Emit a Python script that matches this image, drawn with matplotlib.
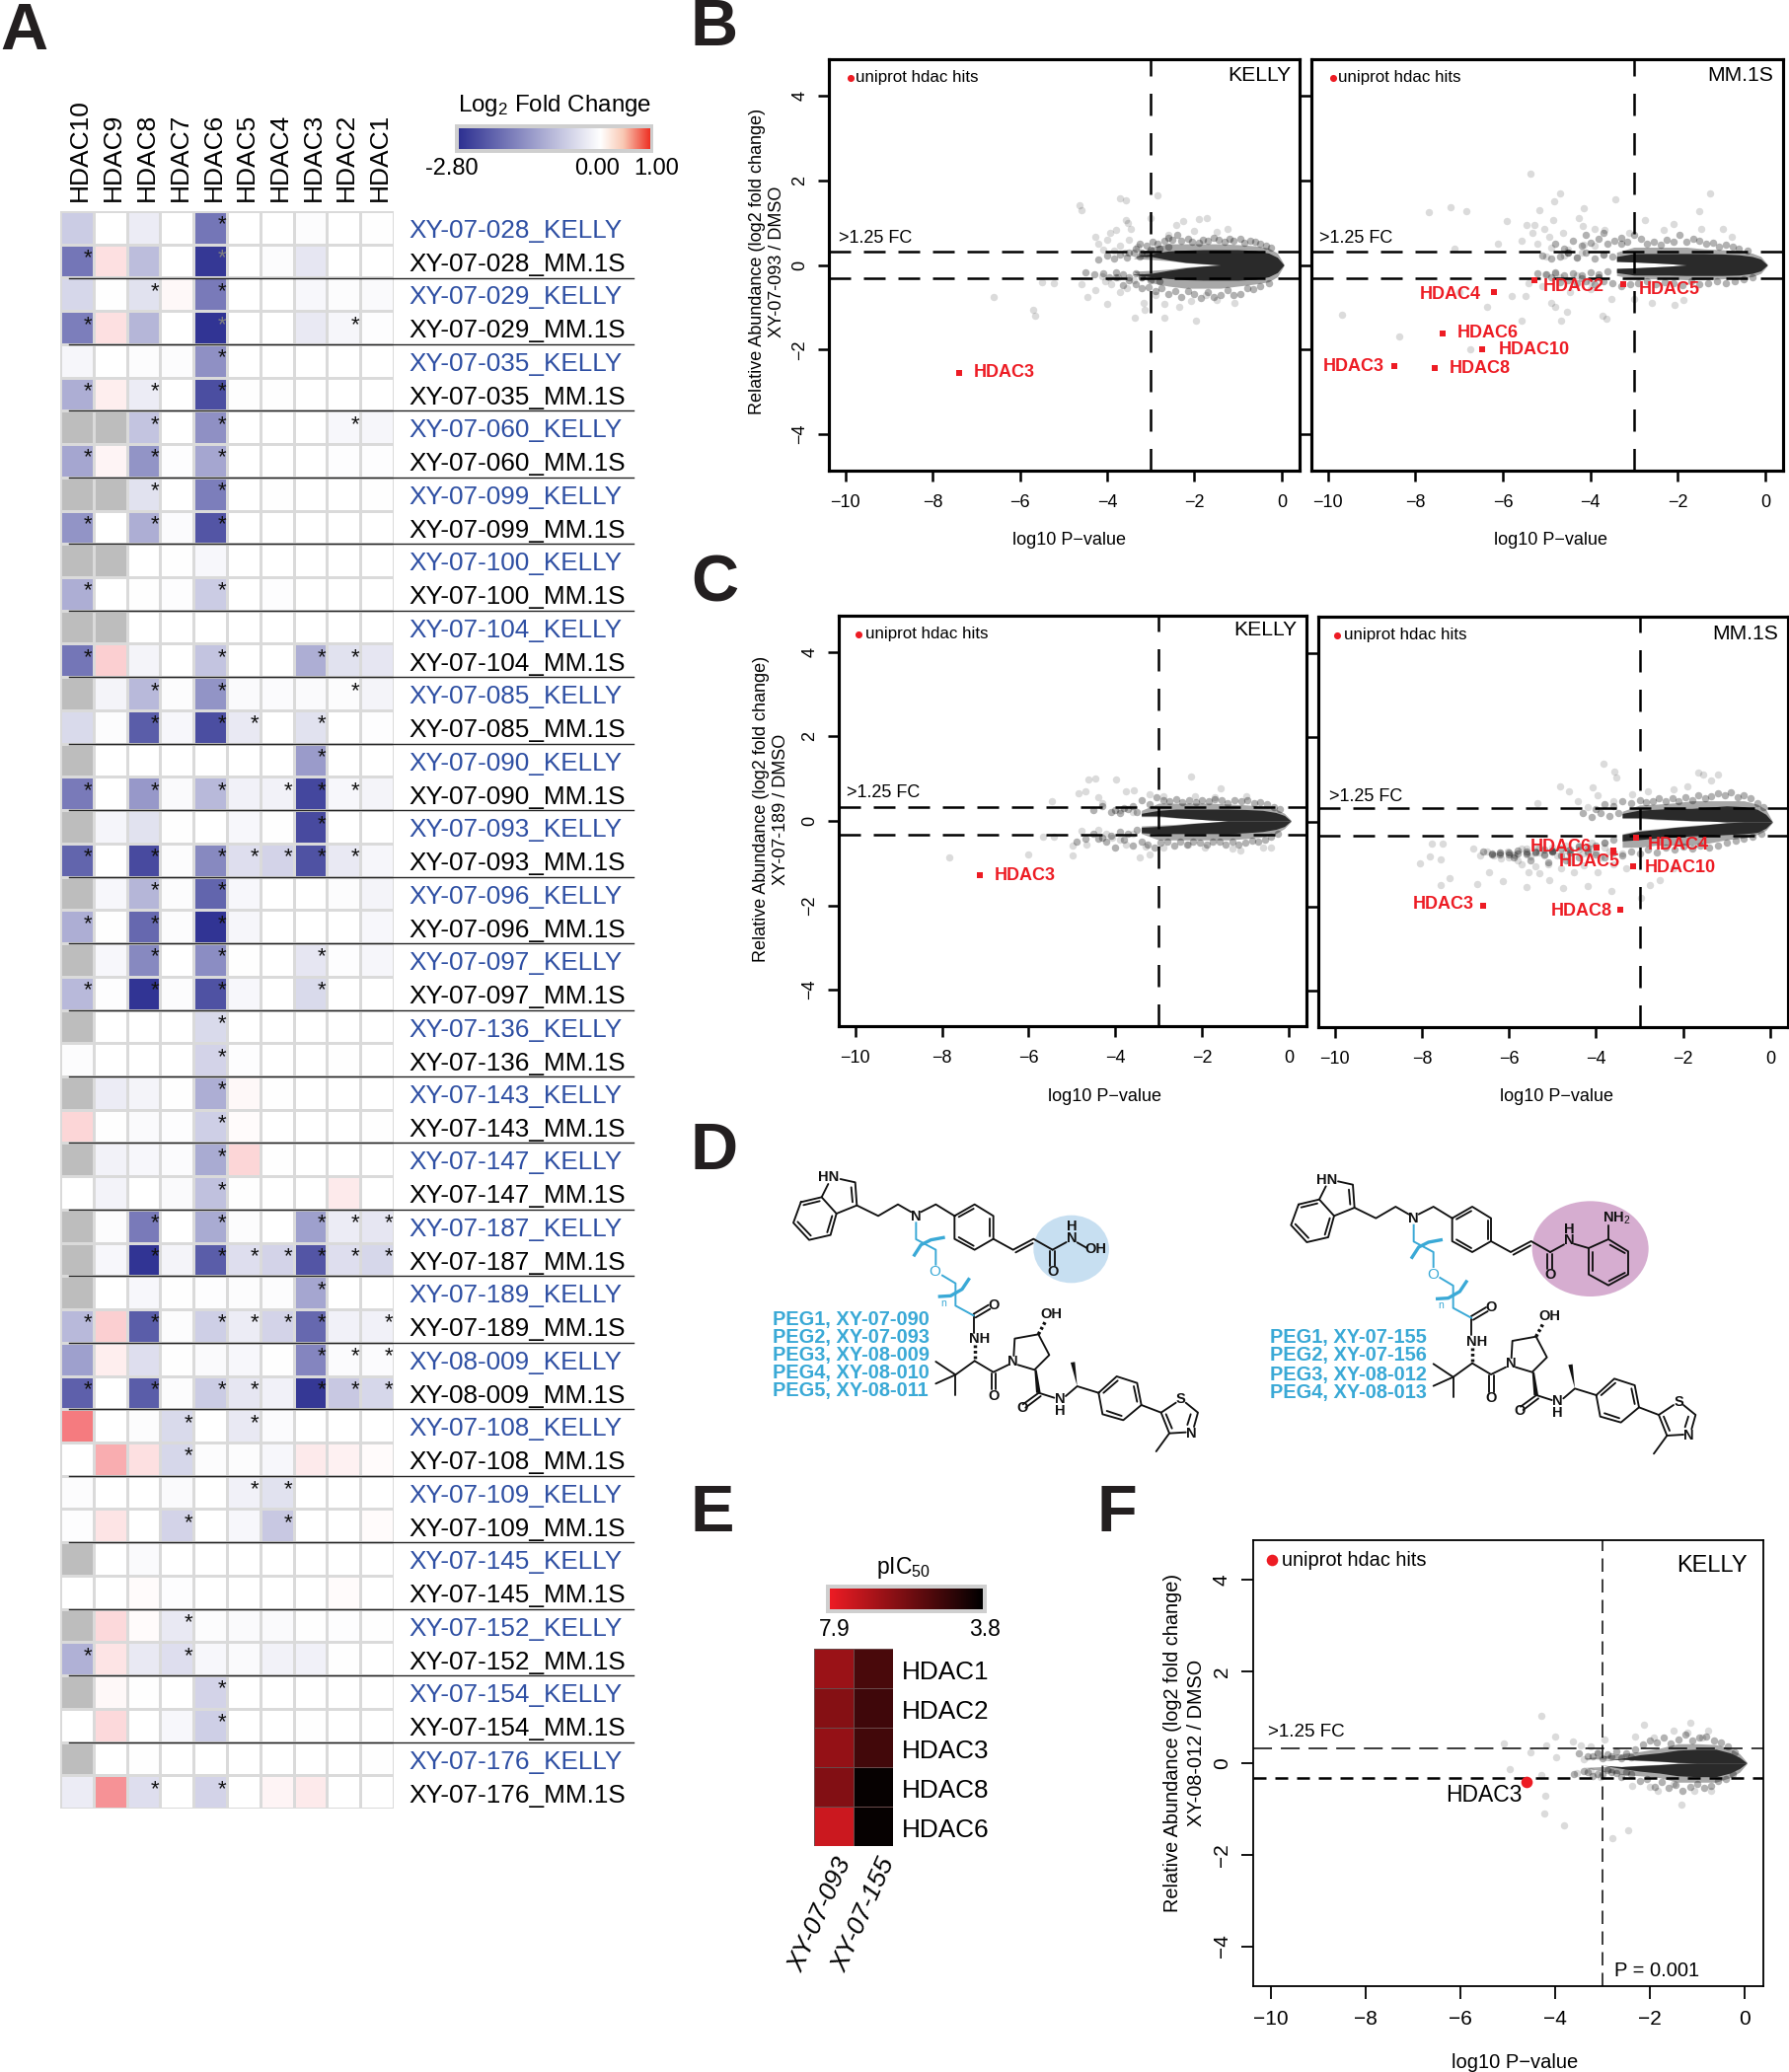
import matplotlib
matplotlib.use('Agg')
import matplotlib.pyplot as plt
import numpy as np
from matplotlib.colors import LinearSegmentedColormap
from matplotlib.patches import Ellipse, Rectangle, Polygon

plt.rcParams['font.family'] = ['Liberation Sans', 'DejaVu Sans']
plt.rcParams['mathtext.fontset'] = 'custom'
plt.rcParams['mathtext.rm'] = 'Liberation Sans'
plt.rcParams['mathtext.default'] = 'rm'

W, H = 1813, 2100
nan = np.nan

# ---- panel A data ----
hdacs = ['HDAC10', 'HDAC9', 'HDAC8', 'HDAC7', 'HDAC6', 'HDAC5', 'HDAC4', 'HDAC3', 'HDAC2', 'HDAC1']
compounds = ['XY-07-028', 'XY-07-029', 'XY-07-035', 'XY-07-060', 'XY-07-099', 'XY-07-100',
             'XY-07-104', 'XY-07-085', 'XY-07-090', 'XY-07-093', 'XY-07-096', 'XY-07-097',
             'XY-07-136', 'XY-07-143', 'XY-07-147', 'XY-07-187', 'XY-07-189', 'XY-08-009',
             'XY-07-108', 'XY-07-109', 'XY-07-145', 'XY-07-152', 'XY-07-154', 'XY-07-176']
fold_change = [
    [-0.7, 0, -0.25, 0, -1.85, 0, 0, -0.05, 0, -0.02],
    [-1.85, 0.13, -0.9, 0, -2.7, 0, -0.05, -0.35, 0, 0],
    [-0.55, -0.02, -0.4, 0.03, -1.8, 0, 0, -0.1, -0.05, -0.08],
    [-1.75, 0.13, -1.0, 0, -2.75, 0, 0, -0.3, -0.12, -0.03],
    [-0.12, 0, -0.05, -0.05, -1.5, 0, 0, 0, 0, 0],
    [-1.1, 0.07, -0.25, 0, -2.4, -0.02, -0.02, 0, 0, 0],
    [nan, nan, -0.8, 0, -1.5, 0, 0, 0, -0.1, -0.12],
    [-1.2, 0.05, -1.45, -0.03, -1.2, 0, 0, 0, -0.03, -0.03],
    [nan, nan, -0.4, 0, -1.75, 0, -0.02, 0, 0, -0.02],
    [-1.45, 0, -1.1, -0.06, -2.3, 0, 0, 0, 0, 0],
    [nan, nan, 0, -0.02, -0.1, 0, 0, 0, 0, 0],
    [-1.1, 0, -0.02, -0.03, -0.7, 0, -0.03, 0, 0, 0],
    [nan, nan, 0, 0, 0, 0, 0, 0, 0, 0],
    [-1.85, 0.2, -0.15, 0, -0.8, 0, 0, -1.1, -0.4, -0.35],
    [nan, -0.15, -0.95, -0.05, -1.45, -0.08, -0.06, -0.08, -0.05, -0.15],
    [-0.5, -0.05, -2.2, -0.1, -2.4, -0.3, 0, -0.4, 0, -0.03],
    [nan, 0, 0, 0, 0, 0, 0, -1.35, 0, 0],
    [-1.8, 0, -1.4, -0.07, -0.95, -0.2, -0.18, -2.5, -0.1, -0.15],
    [nan, -0.13, -0.4, -0.02, 0, -0.1, -0.02, -2.45, 0, 0],
    [-2.1, 0, -2.45, -0.05, -1.6, -0.45, -0.6, -2.35, -0.3, -0.12],
    [nan, -0.1, -1.0, -0.05, -2.1, -0.1, 0, 0, -0.05, -0.15],
    [-1.1, -0.02, -2.05, -0.05, -2.75, -0.12, 0, 0, 0, -0.1],
    [nan, -0.1, -1.6, 0, -1.55, -0.02, 0, -0.35, -0.03, -0.12],
    [-0.95, -0.03, -2.75, -0.05, -2.35, -0.1, 0, -0.5, 0, 0],
    [nan, 0, 0, 0, -0.5, 0, 0, 0, 0, 0],
    [-0.04, 0, 0, 0, -0.6, -0.03, 0, 0, -0.02, 0],
    [nan, -0.25, -0.15, -0.02, -1.1, 0.03, -0.01, 0, 0, 0],
    [0.18, -0.02, -0.08, -0.03, -0.65, 0.02, 0, 0, 0, -0.02],
    [nan, -0.18, -0.1, -0.06, -1.15, 0.18, -0.02, 0, 0, 0],
    [0, -0.16, 0, -0.08, -0.85, -0.02, 0, 0, 0.08, 0],
    [nan, -0.05, -1.8, 0, -1.15, -0.05, 0, -1.3, -0.25, -0.35],
    [nan, -0.1, -2.75, -0.15, -2.2, -0.45, -0.6, -2.3, -0.45, -0.55],
    [nan, 0, -0.1, -0.02, -0.03, -0.05, -0.05, -1.2, 0, 0],
    [-0.95, 0.2, -2.2, -0.05, -0.65, -0.25, -0.6, -2.05, -0.2, -0.2],
    [-1.3, 0.07, -0.45, -0.02, -0.08, -0.1, -0.02, -1.65, -0.06, -0.06],
    [-2.15, 0, -2.2, -0.05, -0.7, -0.35, -0.2, -2.7, -0.75, -0.55],
    [0.58, 0, -0.05, -0.5, 0, -0.3, -0.06, 0, 0, 0],
    [0, 0.35, 0.13, -0.55, -0.04, -0.04, -0.1, 0.08, 0.06, 0.02],
    [-0.05, 0, 0, -0.08, 0, -0.2, -0.4, 0, 0, 0],
    [-0.03, 0.12, 0, -0.6, 0, -0.1, -0.75, 0, 0, 0.01],
    [nan, 0, -0.07, 0, 0, 0, 0, 0, 0, 0],
    [0, 0, 0.01, -0.03, 0, 0, 0, 0, 0.01, 0],
    [nan, 0.16, 0.02, -0.3, -0.05, -0.08, -0.08, -0.01, -0.03, -0.02],
    [-1.05, 0.12, -0.3, -0.45, -0.1, -0.08, -0.18, -0.2, -0.02, 0],
    [nan, 0.03, -0.01, 0, -0.6, 0, 0, 0, 0, 0],
    [0, 0.16, 0, -0.1, -0.65, 0, 0, -0.01, 0, 0],
    [nan, 0, -0.01, 0, 0, 0, 0, 0, 0, -0.02],
    [-0.25, 0.48, -0.45, 0, -0.6, 0, 0.05, 0.08, 0, 0],
]
star_cols = [
    [4], [0, 4], [2, 4], [0, 4, 8], [4], [0, 2, 4], [2, 4, 8], [0, 2, 4],
    [2, 4], [0, 2, 4], [], [0, 4], [], [0, 4, 7, 8], [2, 4, 8], [2, 4, 5, 7],
    [7], [0, 2, 4, 6, 7, 8], [7], [0, 2, 4, 5, 6, 7, 8], [2, 4], [0, 2, 4], [2, 4, 7], [0, 2, 4, 7],
    [4], [4], [4], [4], [4], [4], [2, 4, 7, 8, 9], [2, 4, 5, 6, 7, 8, 9],
    [7], [0, 2, 4, 5, 6, 7, 9], [7, 8, 9], [0, 2, 4, 5, 7, 8, 9], [3, 5], [3], [5, 6], [3, 6],
    [], [], [3], [0, 3], [4], [4], [], [2, 4],
]
grey_stars = [(1, 4), (3, 4)]
low_star = (19, 3)

# ---- panel B, C, F data (log10 P-value, log2 FC) ----
# the solid middle of each cloud is kept as an outline
cloud_x = [0.05, -0.1, -0.3, -0.6, -1.0, -1.4, -1.8, -2.2, -2.6, -3.0, -3.4]

bk_top = [0, .18, .28, .34, .36, .36, .36, .35, .33, .26, .2]
bk_bot = [0, -.18, -.28, -.34, -.36, -.36, -.36, -.35, -.32, -.28, -.23]
bk_gap_top = [0, 0, 0, 0, 0, 0, .03, .06, .12, .2, .2]
bk_gap_bot = [0, 0, 0, 0, 0, 0, -.03, -.07, -.13, -.2, -.22]
bk_h_top = [.02, .28, .4, .45, .48, .5, .5, .5, .5, .42, .15]
bk_h_gt = [0, 0, 0, 0, 0, 0, .02, .05, .1, .13, .15]
bk_h_gb = [0, 0, 0, 0, 0, 0, -.02, -.05, -.1, -.13, -.15]
bk_h_bot = [-.02, -.28, -.4, -.45, -.5, -.55, -.55, -.55, -.5, -.42, -.15]
bk_fx = [-.25, -.35, -.5, -.6, -.72, -.85, -.95, -1.1, -1.2, -1.3, -1.45, -1.55, -1.7, -1.8, -1.9, -2.05, -2.15, -2.3, -2.4, -2.5,
         -2.6, -2.7, -2.85, -2.95, -3.1, -3.25, -3.35, -3.5, -3.2, -3.0, -2.8, -2.6,
         -.3, -.5, -.65, -.8, -.95, -1.1, -1.25, -1.4, -1.55, -1.7, -1.85, -2, -2.15, -2.3, -2.45, -2.6, -2.75, -2.9,
         -3.05, -3.2, -3.35, -3.5, -3.65, -3.8, -3.2, -3.0, -2.8,
         -3.1, -3.25, -3.4, -3.55, -3.7, -3.85, -4.0, -4.2, -3.2, -3.35, -3.5, -3.65, -3.8, -3.95, -4.1, -4.3, -4.5]
bk_fy = [.4, .45, .5, .55, .58, .52, .62, .58, .62, .55, .6, .65, .58, .6, .52, .55, .62, .58, .7, .6,
         .65, .58, .5, .55, .45, .5, .38, .3, .3, .35, .38, .42,
         -.42, -.5, -.58, -.55, -.68, -.72, -.6, -.7, -.75, -.65, -.78, -.68, -.62, -.75, -.62, -.68, -.55, -.62,
         -.52, -.55, -.45, -.35, -.48, -.3, -.3, -.35, -.38,
         .27, .2, .3, .18, .25, .15, .22, .12, -.28, -.2, -.3, -.22, -.18, -.28, -.2, -.22, -.18]
bk_px = [-4.64, -4.59, -3.7, -3.56, -2.84, -3.58, -3.52, -3.0, -2.25, -1.89, -1.72, -3.8, -3.93, -3.45, -2.41, -1.25,
         -4.27, -4.2, -3.99, -3.7, -3.5, -3.3, -4.1, -3.85, -3.6, -2.6, -2.0, -1.5,
         -6.6, -5.69, -5.65, -5.49, -5.22, -4.59, -4.46, -4.0, -4.27, -4.12, -3.36, -3.14, -2.7, -1.96, -2.7, -2.35,
         -3.17, -1.09, -2.07, -1.75, -3.9, -3.75, -3.55, -3.4, -4.05, -3.7, -2.9, -1.5]
bk_py = [1.41, 1.29, 1.57, 1.52, 1.64, 1.06, .98, 1.1, 1.04, 1.08, 1.1, .82, .75, .86, .94, .85,
         .67, .51, .59, .45, .6, .42, .35, .33, .28, .72, .8, .78,
         -.75, -1.06, -1.21, -.4, -.42, -.46, -.75, -.91, -.59, -.26, -1.25, -1.06, -1.25, -1.32, -.93, -.98,
         -.89, -.9, -.85, -.72, -.45, -.28, -.55, -.35, -.38, -.65, -.7, -.82]

bm_top = [0, .14, .2, .24, .26, .27, .27, .27, .27, .27, .2]
bm_bot = [0, -.14, -.2, -.24, -.25, -.25, -.25, -.24, -.24, -.24, -.18]
bm_gap_top = [0, 0, 0, 0, 0, 0, 0, .03, .05, .07, .08]
bm_gap_bot = [0, 0, 0, 0, 0, 0, 0, -.03, -.05, -.07, -.08]
bm_h_top = [.02, .2, .28, .33, .36, .38, .42, .42, .42, .42, .3]
bm_h_gt = [0, 0, 0, 0, 0, 0, 0, .03, .05, .07, .1]
bm_h_gb = [0, 0, 0, 0, 0, 0, 0, -.03, -.05, -.07, -.1]
bm_h_bot = [-.02, -.2, -.28, -.3, -.33, -.35, -.35, -.33, -.33, -.33, -.25]
bm_fx = [-.4, -.6, -.75, -.9, -1.05, -1.2, -1.35, -1.5, -1.65, -1.8, -1.95, -2.1, -2.25, -2.4, -2.55, -2.7, -2.85, -3.0, -3.15, -3.3,
         -3.45, -3.6, -3.8, -4.0, -4.2, -4.4, -4.6, -4.8, -3.3, -3.7, -4.1, -4.5,
         -.3, -.5, -.7, -.9, -1.1, -1.3, -1.5, -1.7, -1.9, -2.1, -2.3, -2.5, -2.7, -2.9, -3.1, -3.3, -3.5, -3.7, -3.9, -4.1,
         -4.3, -4.5, -4.7, -4.9, -3.8, -4.2,
         -3.5, -3.7, -3.9, -4.1, -4.3, -4.5, -4.7, -4.9, -5.1, -3.6, -3.8, -4.0, -4.2, -4.4, -4.6, -4.8, -5.0, -5.2]
bm_fy = [.33, .38, .42, .48, .42, .52, .5, .58, .62, .55, .72, .55, .6, .48, .55, .5, .62, .7, .55, .5,
         .58, .5, .62, .52, .45, .58, .38, .5, .65, .75, .72, .3,
         -.28, -.33, -.38, -.42, -.38, -.42, -.45, -.38, -.48, -.42, -.4, -.45, -.38, -.42, -.45, -.5, -.42, -.38, -.45, -.38,
         -.42, -.35, -.4, -.3, -.28, -.32,
         .2, .25, .15, .28, .18, .3, .2, .15, .22, -.15, -.22, -.18, -.25, -.2, -.25, -.18, -.22, -.2]
bm_px = [-5.38, -4.7, -1.26, -4.83, -3.42, -7.19, -7.7, -6.83, -5.17, -4.15, -1.5, -4.27, -5.91, -5.28, -4.86, -2.76,
         -4.18, -5.46, -5.06, -3.91, -5.57, -6.12, -7.11, -4.94, -4.62, -3.67, -3.12, -2.33, -2.1, -1.47, -.96, -.76,
         -4.15, -5.33, -5.2, -4.9, -4.5, -4.2, -3.9, -3.7, -5.0, -4.6, -4.3,
         -9.67, -8.36, -6.75, -6.36, -5.8, -5.49, -4.9, -4.81, -4.54, -4.67, -5.57, -3.71, -3.63, -3, -2.6, -1.86, -2.07,
         -5.41, -5.02, -4.46, -3.99, -3.52, -6.99, -4.7, -4.3, -4.0, -3.8, -5.1, -4.8]
bm_py = [2.16, 1.68, 1.68, 1.51, 1.56, 1.37, 1.25, 1.28, 1.29, 1.35, 1.28, 1.11, 1.04, .94, 1.07, 1.07,
         .92, .94, .86, .86, .58, .51, .38, .67, .75, .82, .75, .82, .96, .84, .85, .67,
         .47, .75, .5, .4, .35, .3, .45, .25, .2, .22, .18,
         -1.18, -1.7, -2.0, -1, -.73, -.73, -.89, -1, -1.1, -1.31, -1.31, -1.21, -1.28, -.81, -.89, -.82, -.95,
         -.42, -.23, -.65, -.58, -.81, -.65, -.3, -.25, -.4, -.3, -.5, -.2]

ck_top = [0, .13, .2, .25, .27, .28, .28, .28, .28, .25, .18]
ck_bot = [0, -.13, -.2, -.25, -.28, -.3, -.3, -.3, -.3, -.3, -.28]
ck_gap_top = [0, 0, 0, 0, 0, 0, .02, .05, .08, .12, .12]
ck_gap_bot = [0, 0, 0, 0, 0, 0, -.03, -.06, -.1, -.13, -.15]
ck_h_top = [.02, .18, .28, .35, .38, .4, .42, .42, .42, .42, .25]
ck_h_gt = [0, 0, 0, 0, 0, 0, .02, .05, .07, .1, .1]
ck_h_gb = [0, 0, 0, 0, 0, 0, -.03, -.05, -.08, -.1, -.12]
ck_h_bot = [-.02, -.18, -.3, -.38, -.42, -.45, -.45, -.45, -.45, -.45, -.3]
ck_fx = [-.2, -.35, -.5, -.65, -.8, -.95, -1.1, -1.25, -1.4, -1.55, -1.7, -1.85, -2.0, -2.15, -2.3, -2.45, -2.6, -2.75, -2.9, -3.05,
         -3.2, -3.4, -3.6, -3.8, -4.0,
         -.25, -.4, -.55, -.7, -.85, -1.0, -1.15, -1.3, -1.45, -1.6, -1.75, -1.9, -2.05, -2.2, -2.35, -2.5, -2.65, -2.8, -2.95, -3.1,
         -3.25, -3.4, -3.6, -3.8, -4.0, -4.2, -4.4,
         -3.5, -3.7, -3.9, -4.1, -4.3, -4.5, -3.5, -3.7, -3.9, -4.1, -4.3, -4.5, -4.7, -4.9]
ck_fy = [.28, .33, .4, .44, .42, .5, .46, .5, .42, .48, .52, .46, .5, .44, .5, .45, .52, .46, .5, .55,
         .4, .48, .35, .3, .25,
         -.3, -.38, -.45, -.5, -.46, -.52, -.55, -.48, -.55, -.5, -.48, -.56, -.52, -.48, -.55, -.5, -.58, -.48, -.52, -.62,
         -.55, -.5, -.58, -.45, -.62, -.5, -.42,
         .2, .28, .18, .22, .35, .25, -.22, -.3, -.25, -.35, -.4, -.3, -.42, -.5]
ck_px = [-4.63, -4.47, -3.99, -2.25, -1.58, -4.85, -4.69, -3.76, -3.57, -5.47, -4.39, -4.31, -3.2, -2.88, -2.17, -.98, -1.7, -3.9, -3.6,
         -7.84, -6.0, -5.66, -5.42, -4.79, -4.99, -4.98, -4.66, -3.44, -3.2, -3.76, -4.07, -2.88, -1.3, -1.11, -.59, -.4, -1.93, -2.33,
         -4.2, -4.4, -3.9, -3.6, -3.3]
ck_py = [.97, 1.01, .99, 1.04, .78, .66, .7, .69, .72, .47, .55, .43, .62, .58, .58, .58, .55, .25, .2,
         -.87, -.8, -.37, -.37, -.23, -.58, -.82, -.55, -.87, -.8, -.55, -.39, -.62, -.66, -.7, -.62, -.62, -.62, -.55,
         -.3, -.2, -.45, -.3, -.6]

cm_top = [0, .18, .3, .36, .38, .35, .32, .32, .3, .28, .2]
cm_bot = [0, -.15, -.25, -.28, -.3, -.32, -.33, -.36, -.38, -.42, -.45]
cm_gap_top = [0, 0, 0, 0, 0, .02, .03, .05, .07, .1, .1]
cm_gap_bot = [0, 0, 0, 0, -.02, -.06, -.1, -.13, -.18, -.22, -.3]
cm_h_top = [.02, .3, .42, .5, .5, .5, .5, .45, .42, .4, .25]
cm_h_gt = [0, 0, 0, 0, 0, .02, .02, .04, .05, .08, .08]
cm_h_gb = [0, 0, 0, 0, -.02, -.05, -.08, -.12, -.16, -.2, -.28]
cm_h_bot = [-.02, -.2, -.3, -.38, -.42, -.5, -.55, -.55, -.55, -.6, -.6]
cm_fx = [-.15, -.3, -.45, -.6, -.75, -.9, -1.05, -1.2, -1.35, -1.5, -1.65, -1.8, -1.95, -2.1, -2.25, -2.4, -2.55, -2.7, -2.85, -3.0,
         -3.2, -3.4, -3.6, -3.8, -4.0,
         -.2, -.4, -.6, -.8, -1.0, -1.2, -1.4, -1.6, -1.8, -2.0, -2.2, -2.4, -2.6, -2.8, -3.0, -3.2, -3.4, -3.6, -3.8, -4.0, -4.2, -4.4,
         -4.6, -4.8, -5.0, -5.2, -5.4, -5.6, -5.8, -6.0, -6.2, -6.4, -6.6, -4.7, -5.1, -5.5, -5.9,
         -3.5, -3.7, -3.9, -4.1, -4.3, -3.6, -3.8, -4.0, -4.2, -4.4, -4.6, -4.8, -5, -5.2, -5.4, -5.6, -5.8, -6, -6.2, -6.4]
cm_fy = [.35, .45, .55, .62, .58, .7, .62, .68, .6, .55, .62, .52, .58, .5, .56, .48, .55, .5, .46, .52,
         .44, .5, .38, .42, .3,
         -.28, -.34, -.4, -.45, -.48, -.55, -.6, -.56, -.62, -.58, -.65, -.6, -.72, -.66, -.75, -.7, -.8, -.72, -.85, -.78, -.7, -.85,
         -.72, -.8, -.68, -.78, -.7, -.75, -.68, -.78, -.72, -.76, -.7, -.9, -.95, -.9, -.85,
         .2, .15, .22, .12, .2, -.42, -.5, -.55, -.6, -.58, -.65, -.62, -.7, -.65, -.72, -.7, -.75, -.72, -.78, -.75]
cm_px = [-3.84, -3.57, -3.53, -1.66, -1.55, -1.19, -1.35, -4.83, -4.63, -4.07, -5.34, -4.41, -3.96, -2.22, -1.9, -3.17, -2.8, -3.6, -4.2,
         -8.05, -7.81, -7.58, -7.77, -7.53, -7.37, -7.58, -6.74, -6.45, -6.13, -6.81, -6.66, -6.34, -6.02, -5.71, -5.39, -5.86, -6.18,
         -5.55, -5.31, -5.07, -5.59, -4.75, -4.2, -3.65, -2.96, -2.77, -2.54, -2.22, -4.6, -4.28, -3.96,
         -5.0, -5.1, -5.4, -5.7, -4.8, -4.5, -4.2, -3.9, -3.6, -3.3, -6.5, -6.2, -5.9, -5.6, -5.3, -5.0, -4.7, -4.4, -4.1, -3.8,
         -6.0, -5.8, -5.5, -5.2, -4.9, -4.6, -4.3, -4.0, -3.7, -3.4, -5.6, -5.3, -5.0, -4.7, -4.4, -4.1, -3.8]
cm_py = [1.38, 1.2, 1.04, 1.16, 1.12, 1.12, .97, .83, .73, .81, .44, .48, .62, .77, .85, .65, .72, .5, .35,
         -.97, -.81, -.88, -.51, -.51, -1.33, -1.5, -1.47, -1.18, -1.4, -.63, -.79, -.79, -.71, -.63, -.59, -.79, -.87,
         -1.18, -1.22, -1.37, -1.55, -1.57, -1.53, -1.63, -1.8, -1.49, -1.37, -1.1, -.94, -1.02, -1.18,
         -.7, -1.0, -1.05, -1.0, -1.1, -1.2, -.75, -.85, -1.0, -1.1, -.7, -.72, -.76, -.78, -.72, -.7, -.68, -.66, -.62, -.6,
         -.85, -.9, -.82, -.8, -.8, -.76, -.74, -.72, -.7, -.75, -.62, -.6, -.6, -.55, -.55, -.5, -.48]

fk_top = [0, .12, .22, .3, .3, .28, .22, .18, .1, .05, .03]
fk_bot = [0, -.12, -.22, -.3, -.3, -.28, -.22, -.18, -.12, -.05, -.03]
fk_gap_top = [0, 0, 0, 0, 0, .01, .04, .06, .08, .05, .03]
fk_gap_bot = [0, 0, 0, 0, 0, -.01, -.04, -.06, -.08, -.05, -.03]
fk_h_top = [.02, .2, .32, .4, .42, .42, .32, .25, .2, .15, .1]
fk_h_gt = [0, 0, 0, 0, 0, .01, .03, .05, .08, .08, .1]
fk_h_gb = [0, 0, 0, 0, 0, -.01, -.03, -.05, -.08, -.08, -.1]
fk_h_bot = [-.02, -.2, -.32, -.42, -.42, -.42, -.32, -.28, -.25, -.18, -.1]
fk_fx = [-.2, -.35, -.5, -.65, -.8, -.95, -1.1, -1.25, -1.4, -1.55, -1.7, -1.85, -2.0, -2.15, -2.3, -2.5, -2.7, -2.9, -3.1, -3.3, -3.5,
         -.25, -.4, -.55, -.7, -.85, -1.0, -1.15, -1.3, -1.45, -1.6, -1.75, -1.9, -2.05, -2.2, -2.4, -2.6, -2.8, -3.0, -3.2, -3.4, -3.6,
         -2.4, -2.6, -2.8, -3.0, -3.2, -2.5, -2.7, -2.9, -3.1, -3.3]
fk_fy = [.24, .36, .44, .5, .58, .55, .48, .62, .52, .42, .55, .44, .48, .4, .3, .2, .25, .18, .22, .15, .2,
         -.24, -.34, -.4, -.5, -.55, -.46, -.52, -.6, -.48, -.55, -.42, -.52, -.36, -.4, -.25, -.3, -.2, -.25, -.28, -.18, -.24,
         .12, .1, .15, .1, .14, -.2, -.22, -.15, -.25, -.2]
fk_px = [-4.29, -4.0, -5.07, -4.51, -4.19, -3.97, -3.61, -3.46, -3.25, -2.95, -3.1, -3.39, -2.11, -1.15, -2.3, -1.91, -1.5, -.77, -1.21, -.9,
         -4.95, -4.29, -4.21, -4.22, -3.81, -2.45, -2.79, -1.32, -3.54, -3.25, -3.03, -2.37, -2.0, -1.82, -1.06, -.7, -1.5]
fk_py = [1.02, .57, .42, .24, .39, .12, .47, .39, .35, .51, .24, .08, .84, .87, .58, .55, .7, .7, .66, .55,
         -.13, -.26, -.72, -1.11, -1.37, -1.47, -1.64, -.9, -.22, -.18, -.3, -.49, -.53, -.61, -.61, -.61, -.45]

# labelled HDAC hits
bk_hit_x = [-7.4]
bk_hit_y = [-2.55]
bm_hit_x = [-5.27, -3.25, -6.21, -7.38, -6.48, -8.49, -7.56]
bm_hit_y = [-.37, -.46, -.65, -1.62, -2.0, -2.39, -2.43]
ck_hit_x = [-7.12]
ck_hit_y = [-1.29]
cm_hit_x = [-6.59, -3.45, -3.14, -3.07, -3.98, -3.61]
cm_hit_y = [-1.98, -2.07, -1.04, -.37, -.61, -.67]

# ---- panel E data ----
e_targets = ['HDAC1', 'HDAC2', 'HDAC3', 'HDAC8', 'HDAC6']
e_compounds = ['XY-07-093', 'XY-07-155']
e_pic50 = [[6.46, 5.08], [6.1, 4.89], [6.36, 4.94], [6.05, 3.9], [7.3, 3.9]]

RED = '#ed1c24'
BLUE_TXT = '#3aa9d6'

fig = plt.figure(figsize=(W / 100, H / 100), dpi=100)


def ax_px(x0, y0, x1, y1, **kw):
    return fig.add_axes([x0 / W, 1 - y1 / H, (x1 - x0) / W, (y1 - y0) / H], **kw)


over = fig.add_axes([0, 0, 1, 1], zorder=10)
over.set_xlim(0, W)
over.set_ylim(H, 0)
over.set_axis_off()


def put(x, y, s, size=20, ha='left', va='center', **kw):
    over.text(x, y, s, fontsize=size, ha=ha, va=va, **kw)


# panel letters
for letter, lx, ly in [('A', 0, 33), ('B', 700, 29), ('C', 700, 593), ('D', 700, 1168),
                       ('E', 700, 1535), ('F', 1112, 1535)]:
    put(lx, ly, letter, size=48, fontweight='bold', color='#231f20')

# ---- A ----
fc_cmap = LinearSegmentedColormap.from_list(
    'fc', [(0, '#2e3192'), (2.8 / 3.8, '#ffffff'), (1, RED)])
fc_cmap.set_bad('#bdbdbd')
ax_a = ax_px(61, 214, 399, 1833)
ax_a.pcolormesh(np.ma.masked_invalid(np.array(fold_change)), cmap=fc_cmap, vmin=-2.8, vmax=1,
                edgecolors='#dadada', linewidth=0.8)
ax_a.set_ylim(48, 0)
ax_a.set_xlim(0, 10)
ax_a.set_axis_off()
for r, cols in enumerate(star_cols):
    for c in cols:
        col = '#808080' if (r, c) in grey_stars else '#111111'
        dy = 0.95 if (r, c) == low_star else 0.58
        cx = 0.9 if (r, c) == low_star else 0.84
        ax_a.text(c + cx, r + dy, '*', fontsize=16, ha='center', va='baseline', color=col)

for i, name in enumerate(hdacs):
    put(64.5 + 33.75 * (i + 0.5), 204, name, size=19, ha='center', va='bottom', rotation=90)
for i, name in enumerate(compounds):
    y0 = 214 + 33.73 * 2 * i
    put(414, y0 + 20, name + '_KELLY', size=18.8, color='#2e4fa3')
    put(414, y0 + 54, name + '_MM.1S', size=18.8, color='black')
    if i < len(compounds) - 1:
        over.plot([70, 642], [y0 + 67.5, y0 + 67.5], color='#222222', lw=1)

over.add_patch(Rectangle((461, 126), 201, 29, fc='#cfcfcf', ec='none'))
cb_cmap = LinearSegmentedColormap.from_list(
    'fc_bar', [(0, '#2e3192'), (0.74, '#ffffff'), (0.86, '#f9c9b4'), (1, '#ee3124')])
ax_cb = ax_px(465, 130, 659, 151)
ax_cb.imshow(np.linspace(0, 1, 256)[None, :], cmap=cb_cmap, aspect='auto', vmin=0, vmax=1)
ax_cb.set_axis_off()
ax_cb.set_zorder(11)
put(562, 107, 'Log$_2$ Fold Change', size=17.4, ha='center')
put(458, 171, '-2.80', size=17, ha='center')
put(605, 171, '0.00', size=17, ha='center')
put(665, 171, '1.00', size=17, ha='center')


# ---- volcano panels ----
def volcano(box, xlim, ylim, top, bot, gap_top, gap_bot, h_top, h_gt, h_gb, h_bot, fx, fy, px, py, lw=1.8, thin=False):
    ax = ax_px(*box)
    ax.set_xlim(*xlim)
    ax.set_ylim(*ylim)
    ax.scatter(px, py, s=29, color='k', alpha=0.14, linewidths=0)
    ax.scatter(fx, fy, s=29, color='k', alpha=0.3, linewidths=0)
    ax.fill_between(cloud_x, h_gt, h_top, color='k', alpha=0.34, lw=0)
    ax.fill_between(cloud_x, h_bot, h_gb, color='k', alpha=0.34, lw=0)
    ax.fill_between(cloud_x, gap_top, top, color='#2a2a2a', lw=0)
    ax.fill_between(cloud_x, bot, gap_bot, color='#2a2a2a', lw=0)
    if thin:
        ax.axhline(0.32, color='k', lw=1.08, dashes=(12.7, 6))
        ax.axhline(-0.32, color='k', lw=lw, dashes=(5.2, 3.6))
        ax.axvline(-3, color='k', lw=1.08, dashes=(9, 5))
    else:
        ax.axhline(0.32, color='k', lw=lw, dashes=(8.8, 5.2))
        ax.axhline(-0.32, color='k', lw=lw, dashes=(8.8, 5.2))
        ax.axvline(-3, color='k', lw=lw, dashes=(9, 7))
    for s in ax.spines.values():
        s.set_linewidth(1.3 if thin else lw * 1.25)
    ax.set_xticks([-10, -8, -6, -4, -2, 0])
    ax.set_xticklabels(['\u221210', '\u22128', '\u22126', '\u22124', '\u22122', '0'], fontsize=13)
    ax.set_yticks([-4, -2, 0, 2, 4])
    ax.tick_params(axis='both', length=8, width=lw)
    ax.tick_params(axis='x', pad=9)
    ax.tick_params(axis='y', pad=7)
    return ax


def y_labels(ax):
    ax.set_yticklabels(['\u22124', '\u22122', '0', '2', '4'], rotation=90, va='center', fontsize=13)


def hits(ax, xs, ys, size=22):
    ax.scatter(xs, ys, s=size, color=RED, marker='s', linewidths=0, zorder=5)


def corner(ax, dot, txt_x, name, name_x, name_y, fc_x, fc_y):
    ax.scatter([dot[0]], [dot[1]], s=26, color=RED, linewidths=0, zorder=5)
    ax.text(txt_x, dot[1], 'uniprot hdac hits', fontsize=12.2, va='center')
    ax.text(name_x, name_y, name, fontsize=15.2, va='center', ha='right')
    ax.text(fc_x, fc_y, '>1.25 FC', fontsize=13, va='center')


def hit_label(ax, x, y, s, ha='left'):
    ax.text(x, y, s, color=RED, fontsize=13, fontweight='bold', ha=ha, va='center')


XL = (-10.38, 0.41)
YL = (-4.86, 4.86)

# B
ax = volcano((840, 60, 1317, 477), XL, YL, bk_top, bk_bot, bk_gap_top, bk_gap_bot, bk_h_top, bk_h_gt, bk_h_gb, bk_h_bot,
             bk_fx, bk_fy, bk_px, bk_py)
y_labels(ax)
hits(ax, bk_hit_x, bk_hit_y)
corner(ax, (-9.89, 4.42), -9.76, 'KELLY', 0.22, 4.48, -10.15, 0.63)
hit_label(ax, -7.07, -2.55, 'HDAC3')

ax = volcano((1329, 60, 1807, 477), XL, YL, bm_top, bm_bot, bm_gap_top, bm_gap_bot, bm_h_top, bm_h_gt, bm_h_gb, bm_h_bot,
             bm_fx, bm_fy, bm_px, bm_py)
ax.set_yticklabels([])
hits(ax, bm_hit_x, bm_hit_y)
corner(ax, (-9.89, 4.42), -9.76, 'MM.1S', 0.19, 4.48, -10.2, 0.62)
hit_label(ax, -5.09, -.51, 'HDAC2')
hit_label(ax, -2.89, -.575, 'HDAC5')
hit_label(ax, -6.51, -.71, 'HDAC4', ha='right')
hit_label(ax, -7.05, -1.62, 'HDAC6')
hit_label(ax, -6.09, -2.0, 'HDAC10')
hit_label(ax, -8.72, -2.41, 'HDAC3', ha='right')
hit_label(ax, -7.22, -2.45, 'HDAC8')

put(1083, 548, 'log10 P\u2212value', size=13, ha='center')
put(1572, 548, 'log10 P\u2212value', size=13, ha='center')
put(767, 265, 'Relative Abundance (log2 fold change)', size=13, ha='center', rotation=90)
put(788, 265, 'XY-07-093 / DMSO', size=13, ha='center', rotation=90)

# C
ax = volcano((850, 624, 1324, 1040), XL, YL, ck_top, ck_bot, ck_gap_top, ck_gap_bot, ck_h_top, ck_h_gt, ck_h_gb, ck_h_bot,
             ck_fx, ck_fy, ck_px, ck_py)
y_labels(ax)
hits(ax, ck_hit_x, ck_hit_y, size=16)
corner(ax, (-9.92, 4.42), -9.76, 'KELLY', 0.2, 4.52, -10.2, 0.66)
hit_label(ax, -6.78, -1.3, 'HDAC3')

ax = volcano((1336, 625, 1812, 1041), XL, YL, cm_top, cm_bot, cm_gap_top, cm_gap_bot, cm_h_top, cm_h_gt, cm_h_gb, cm_h_bot,
             cm_fx, cm_fy, cm_px, cm_py)
ax.set_yticklabels([])
hits(ax, cm_hit_x, cm_hit_y)
corner(ax, (-9.95, 4.42), -9.78, 'MM.1S', 0.19, 4.45, -10.13, 0.6)
hit_label(ax, -6.8, -1.96, 'HDAC3', ha='right')
hit_label(ax, -3.63, -2.12, 'HDAC8', ha='right')
hit_label(ax, -2.88, -1.08, 'HDAC10')
hit_label(ax, -2.82, -.55, 'HDAC4')
hit_label(ax, -4.1, -.59, 'HDAC6', ha='right')
hit_label(ax, -3.45, -.94, 'HDAC5', ha='right')

put(1120, 1112, 'log10 P\u2212value', size=13, ha='center')
put(1578, 1112, 'log10 P\u2212value', size=13, ha='center')
put(772, 820, 'Relative Abundance (log2 fold change)', size=13, ha='center', rotation=90)
put(792, 820, 'XY-07-189 / DMSO', size=13, ha='center', rotation=90)

# F
ax = volcano((1270, 1561, 1786.5, 2012.5), (-10.37, 0.39), (-4.86, 4.86), fk_top, fk_bot, fk_gap_top, fk_gap_bot,
             fk_h_top, fk_h_gt, fk_h_gb, fk_h_bot, fk_fx, fk_fy, fk_px, fk_py, thin=True)
y_labels(ax)
ax.tick_params(axis='both', labelsize=15, length=9, width=1.3)
ax.scatter([-4.6], [-.41], s=70, color=RED, marker='o', linewidths=0, zorder=5)
ax.scatter([-9.97], [4.42], s=70, color=RED, linewidths=0, zorder=5)
ax.text(-9.77, 4.42, 'uniprot hdac hits', fontsize=14.4, va='center')
ax.text(0.06, 4.31, 'KELLY', fontsize=17, va='center', ha='right')
ax.text(-10.05, 0.68, '>1.25 FC', fontsize=13.5, va='center')
ax.text(-4.7, -.7, 'HDAC3', fontsize=16.5, va='center', ha='right')
ax.text(-2.75, -4.53, 'P = 0.001', fontsize=14.5, va='center')
put(1535, 2090, 'log10 P\u2212value', size=14.5, ha='center')
put(1189, 1766, 'Relative Abundance (log2 fold change)', size=14.3, ha='center', rotation=90)
put(1213, 1766, 'XY-08-012 / DMSO', size=14.3, ha='center', rotation=90)

# ---- E ----
e_cmap = LinearSegmentedColormap.from_list('pic', ['#000000', RED])
ax_e = ax_px(825, 1671, 905, 1871)
ax_e.pcolormesh(np.array(e_pic50), cmap=e_cmap, vmin=3.8, vmax=7.9, edgecolors='#6a4a4a', linewidth=0.4)
ax_e.set_ylim(5, 0)
ax_e.set_axis_off()
for i, name in enumerate(e_targets):
    put(914, 1695 + 40 * i, name, size=18.8)
for i, name in enumerate(e_compounds):
    put(846 + 44 * i, 1879, name, size=19, ha='right', va='top', rotation=66, rotation_mode='anchor', style='italic')

over.add_patch(Rectangle((837, 1606), 163, 29, fc='#cfcfcf', ec='none'))
ax_ecb = ax_px(841, 1610, 996, 1631)
ax_ecb.imshow(np.linspace(1, 0, 256)[None, :], cmap=e_cmap, aspect='auto', vmin=0, vmax=1)
ax_ecb.set_axis_off()
ax_ecb.set_zorder(11)
put(915, 1589, 'pIC$_{50}$', size=16.5, ha='center')
put(846, 1652, '7.9', size=16.5, ha='center')
put(998, 1652, '3.8', size=16.5, ha='center')

# ---- D, structures (bond coordinates in px of a 3x crop) ----
black_bonds = [
    [(275, 205), (338, 190), (383, 240), (365, 305), (300, 320), (252, 268), (275, 205)],
    [(283, 214), (332, 202)], [(370, 247), (355, 297)], [(305, 307), (265, 265)],
    [(338, 190), (358, 150)], [(395, 135), (440, 145), (445, 215), (383, 240)], [(428, 160), (432, 205)],
    [(445, 215), (510, 247), (570, 212), (610, 235)], [(640, 235), (685, 212), (742, 247)],
    [(742, 247), (803, 212), (860, 247), (860, 317), (803, 350), (742, 317), (742, 247)],
    [(755, 250), (800, 225)], [(850, 255), (850, 310)], [(755, 312), (800, 338)],
    [(860, 317), (920, 350), (982, 317), (1040, 350)], [(928, 358), (980, 330)],
    [(1032, 355), (1032, 400)], [(1046, 355), (1046, 400)],
    [(800, 545), (845, 518)], [(806, 556), (850, 530)], [(800, 550), (800, 602)],
    [(803, 688), (745, 730), (685, 690)], [(745, 730), (685, 757)], [(745, 730), (745, 792)],
    [(803, 688), (860, 722), (905, 700)], [(855, 725), (855, 775)], [(868, 725), (868, 775)],
    [(922, 672), (925, 620), (997, 607), (1030, 670), (985, 715), (935, 700)],
    [(998, 785), (950, 820)], [(1004, 795), (958, 830)], [(998, 785), (1045, 800)],
    [(1080, 795), (1115, 765), (1180, 785)],
    [(1180, 785), (1235, 735), (1297, 755), (1310, 822), (1255, 868), (1192, 850), (1180, 785)],
    [(1195, 785), (1238, 748)], [(1287, 765), (1297, 812)], [(1205, 840), (1250, 855)],
    [(1310, 822), (1370, 845), (1415, 815)], [(1445, 815), (1482, 845), (1470, 888)],
    [(1460, 850), (1450, 882)],
    [(1445, 905), (1395, 908), (1370, 845)], [(1385, 850), (1403, 893)], [(1395, 908), (1355, 963)],
]
blue_bonds = [
    [(625, 268), (625, 318), (685, 350), (685, 395)],
    [(705, 428), (745, 452), (745, 520), (800, 550)],
]
blue_arcs = [
    [(620, 366), (640, 335), (670, 320), (708, 313)],
    [(697, 492), (730, 490), (765, 470), (785, 440)],
]
wedges = [[(803, 640), (803, 688)], [(997, 607), (1020, 565)]]
solid_wedges = [[(985, 715), (992, 715), (1004, 785), (990, 785)], [(1115, 765), (1095, 693), (1108, 691)]]
atoms = [('HN', 360, 130), ('N', 625, 248), ('O', 860, 518), ('NH', 818, 622), ('O', 860, 795), ('N', 920, 690),
         ('OH', 1037, 545), ('O', 947, 832), ('N', 1063, 803), ('H', 1063, 840), ('S', 1430, 805), ('N', 1462, 908)]
head_one_bonds = [[(1040, 350), (1082, 327)], [(1115, 328), (1145, 345)]]
head_one_atoms = [('O', 1040, 418), ('N', 1098, 315), ('H', 1098, 278), ('OH', 1172, 348)]
head_two_bonds = [[(1040, 350), (1082, 327)], [(1112, 325), (1157, 338)],
                  [(1157, 338), (1217, 311), (1277, 348), (1277, 418), (1217, 451), (1157, 418), (1157, 338)],
                  [(1169, 351), (1169, 408)], [(1222, 328), (1267, 353)], [(1219, 438), (1267, 413)],
                  [(1217, 311), (1217, 268)]]
head_two_atoms = [('O', 1040, 418), ('N', 1097, 313), ('H', 1097, 281), ('NH$_2$', 1242, 248)]


def structure(ox, oy, ell, ell_col, head_bonds, head_atoms, peg_lines, peg_x):
    def tx(pts):
        return [ox + p[0] / 3 for p in pts], [oy + p[1] / 3 for p in pts]

    over.add_patch(Ellipse((ox + ell[0] / 3, oy + ell[1] / 3), 2 * ell[2] / 3, 2 * ell[3] / 3, fc=ell_col, ec='none', zorder=1))
    for b in black_bonds + head_bonds:
        over.plot(*tx(b), color='#111111', lw=1.35, zorder=2, solid_capstyle='round')
    for b in blue_bonds:
        over.plot(*tx(b), color=BLUE_TXT, lw=1.4, zorder=2)
    for b in blue_arcs:
        over.plot(*tx(b), color=BLUE_TXT, lw=2.4, zorder=2)
    for b in wedges:
        over.plot(*tx(b), color='#111111', lw=2.5, dashes=(0.8, 0.8), zorder=2)
    for w in solid_wedges:
        xs, ys = tx(w)
        over.add_patch(Polygon(list(zip(xs, ys)), fc='#111111', ec='none', zorder=2))
    for s, ax_, ay_ in atoms + head_atoms:
        over.text(ox + ax_ / 3, oy + ay_ / 3, s, fontsize=10.5, ha='center', va='center', color='#111111',
                  fontweight='bold', zorder=3)
    over.text(ox + 683 / 3, oy + 418 / 3, 'O', fontsize=11, ha='center', va='center', color=BLUE_TXT, zorder=3)
    over.text(ox + 708 / 3, oy + 512 / 3, 'n', fontsize=7.5, ha='center', va='center', color=BLUE_TXT, zorder=3)
    for s, py in peg_lines:
        over.text(peg_x, py, s, fontsize=14.4, fontweight='bold', color=BLUE_TXT, va='center', zorder=3)


peg_one = [('PEG1, XY-07-090', 1338), ('PEG2, XY-07-093', 1356), ('PEG3, XY-08-009', 1374),
           ('PEG4, XY-08-010', 1392), ('PEG5, XY-08-011', 1410)]
peg_two = [('PEG1, XY-07-155', 1356), ('PEG2, XY-07-156', 1374), ('PEG3, XY-08-012', 1393),
           ('PEG4, XY-08-013', 1411)]
structure(720, 1150, (1097, 348, 115, 103), '#c7dff1', head_one_bonds, head_one_atoms, peg_one, 783)
structure(1240 - 47 / 3, 1150 + 7 / 3, (1162, 340, 177, 145), '#d6add0', head_two_bonds, head_two_atoms, peg_two, 1287)

fig.savefig('out.png', dpi=100)
